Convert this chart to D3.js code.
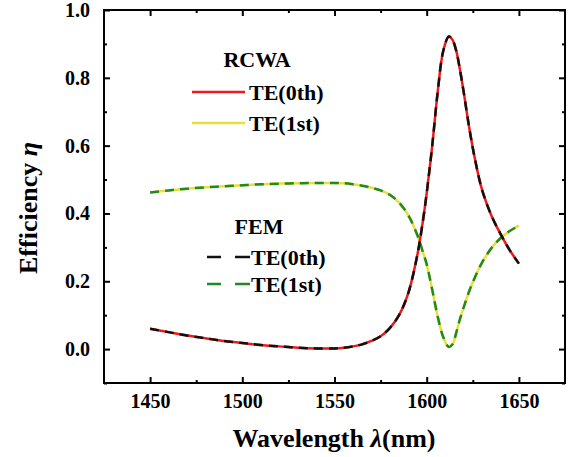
<!DOCTYPE html>
<html>
<head>
<meta charset="utf-8">
<script src="https://d3js.org/d3.v7.min.js"></script>
<style>
  body { margin: 0; background: #fff; }
  text { font-family: "Liberation Serif", "Times New Roman", serif; font-weight: bold; }
</style>
</head>
<body>
<svg width="573" height="457"></svg>
<script>
// wavelength (nm)
var wavelength = [1450, 1460, 1470, 1480, 1490, 1500, 1510, 1520, 1530, 1540, 1550, 1555, 1560, 1565,
                  1570, 1575, 1580, 1585, 1590, 1595, 1598, 1600, 1603, 1606, 1609, 1612, 1614, 1616,
                  1618, 1620, 1623, 1626, 1630, 1635, 1640, 1645, 1650];
// efficiency, 0th order
var te0 = [0.060, 0.050, 0.040, 0.032, 0.024, 0.018, 0.012, 0.008, 0.004, 0.002, 0.002, 0.004, 0.008, 0.014,
           0.024, 0.038, 0.062, 0.100, 0.165, 0.280, 0.380, 0.460, 0.600, 0.760, 0.880, 0.922, 0.912, 0.880,
           0.825, 0.760, 0.655, 0.565, 0.470, 0.395, 0.340, 0.292, 0.252];
// efficiency, 1st order
var te1 = [0.462, 0.468, 0.473, 0.477, 0.480, 0.483, 0.486, 0.488, 0.489, 0.490, 0.490, 0.489, 0.486, 0.482,
           0.476, 0.468, 0.455, 0.432, 0.395, 0.335, 0.285, 0.250, 0.175, 0.095, 0.035, 0.006, 0.014, 0.048,
           0.088, 0.122, 0.170, 0.210, 0.255, 0.297, 0.327, 0.348, 0.364];

var xTicks = [1450, 1500, 1550, 1600, 1650];
var xMinor = [1475, 1525, 1575, 1625];
var yTicks = [0.0, 0.2, 0.4, 0.6, 0.8, 1.0];
var yMinor = [-0.1, 0.1, 0.3, 0.5, 0.7, 0.9];

var svg = d3.select("svg");
var pLeft = 104, pRight = 565, pTop = 10, pBottom = 383;

var x = d3.scaleLinear().domain([1425, 1675]).range([pLeft, pRight]);
var y = d3.scaleLinear().domain([-0.1, 1.0]).range([pBottom, pTop]);

function styleAxis(g) {
  g.select(".domain").remove();
  g.selectAll(".tick line").attr("stroke", "#000").attr("stroke-width", 2);
  g.selectAll(".tick text").attr("font-size", 20).attr("fill", "#000");
}

svg.append("g").attr("transform", "translate(0," + pBottom + ")")
  .call(d3.axisBottom(x).tickValues(xTicks).tickSize(-6).tickPadding(11).tickFormat(d3.format("d")))
  .call(styleAxis);
svg.append("g").attr("transform", "translate(0," + pBottom + ")")
  .call(d3.axisBottom(x).tickValues(xMinor).tickSize(-3).tickFormat(""))
  .call(styleAxis);
svg.append("g").attr("transform", "translate(0," + pTop + ")")
  .call(d3.axisTop(x).tickValues(xTicks).tickSize(-6).tickFormat(""))
  .call(styleAxis);
svg.append("g").attr("transform", "translate(0," + pTop + ")")
  .call(d3.axisTop(x).tickValues(xMinor).tickSize(-3).tickFormat(""))
  .call(styleAxis);

svg.append("g").attr("transform", "translate(" + pLeft + ",0)")
  .call(d3.axisLeft(y).tickValues(yTicks).tickSize(-6).tickPadding(14).tickFormat(d3.format(".1f")))
  .call(styleAxis);
svg.append("g").attr("transform", "translate(" + pLeft + ",0)")
  .call(d3.axisLeft(y).tickValues(yMinor).tickSize(-3).tickFormat(""))
  .call(styleAxis);
svg.append("g").attr("transform", "translate(" + pRight + ",0)")
  .call(d3.axisRight(y).tickValues(yTicks).tickSize(-6).tickFormat(""))
  .call(styleAxis);
svg.append("g").attr("transform", "translate(" + pRight + ",0)")
  .call(d3.axisRight(y).tickValues(yMinor).tickSize(-3).tickFormat(""))
  .call(styleAxis);

svg.append("rect")
  .attr("x", pLeft).attr("y", pTop)
  .attr("width", pRight - pLeft).attr("height", pBottom - pTop)
  .attr("fill", "none").attr("stroke", "#000").attr("stroke-width", 2);

var line = d3.line()
  .x(function (d) { return x(d[0]); })
  .y(function (d) { return y(d[1]); })
  .curve(d3.curveCatmullRom);

var d0 = wavelength.map(function (w, i) { return [w, te0[i]]; });
var d1 = wavelength.map(function (w, i) { return [w, te1[i]]; });

var series = [
  { data: d1, color: "#e8df3a", dash: null },
  { data: d0, color: "#f01818", dash: null },
  { data: d1, color: "#1f8a1f", dash: "9,6" },
  { data: d0, color: "#111111", dash: "9,6" }
];

series.forEach(function (s) {
  svg.append("path")
    .attr("d", line(s.data))
    .attr("fill", "none")
    .attr("stroke", s.color)
    .attr("stroke-width", 2.5)
    .attr("stroke-dasharray", s.dash);
});

// legends
var lg = svg.append("g");
lg.append("text").attr("x", 257).attr("y", 67).attr("text-anchor", "middle")
  .attr("font-size", 22).text("RCWA");
lg.append("line").attr("x1", 192).attr("x2", 245).attr("y1", 92).attr("y2", 92)
  .attr("stroke", "#f01818").attr("stroke-width", 2.5);
lg.append("text").attr("x", 249).attr("y", 100).attr("font-size", 22).text("TE(0th)");
lg.append("line").attr("x1", 192).attr("x2", 245).attr("y1", 123).attr("y2", 123)
  .attr("stroke", "#e8df3a").attr("stroke-width", 2.5);
lg.append("text").attr("x", 249).attr("y", 131).attr("font-size", 22).text("TE(1st)");

lg.append("text").attr("x", 259).attr("y", 234).attr("text-anchor", "middle")
  .attr("font-size", 22).text("FEM");
[[207, 221], [235, 250]].forEach(function (seg) {
  lg.append("line").attr("x1", seg[0]).attr("x2", seg[1]).attr("y1", 257).attr("y2", 257)
    .attr("stroke", "#111").attr("stroke-width", 2.5);
  lg.append("line").attr("x1", seg[0]).attr("x2", seg[1]).attr("y1", 284).attr("y2", 284)
    .attr("stroke", "#1f8a1f").attr("stroke-width", 2.5);
});
lg.append("text").attr("x", 251).attr("y", 265).attr("font-size", 22).text("TE(0th)");
lg.append("text").attr("x", 251).attr("y", 292).attr("font-size", 22).text("TE(1st)");

// axis titles
var xt = svg.append("text").attr("x", 334).attr("y", 447).attr("text-anchor", "middle").attr("font-size", 26);
xt.append("tspan").text("Wavelength ");
xt.append("tspan").attr("font-style", "italic").text("λ");
xt.append("tspan").text("(nm)");

var yt = svg.append("text").attr("transform", "translate(37,208) rotate(-90)")
  .attr("text-anchor", "middle").attr("font-size", 26);
yt.append("tspan").text("Efficiency ");
yt.append("tspan").attr("font-style", "italic").text("η");
</script>
</body>
</html>
